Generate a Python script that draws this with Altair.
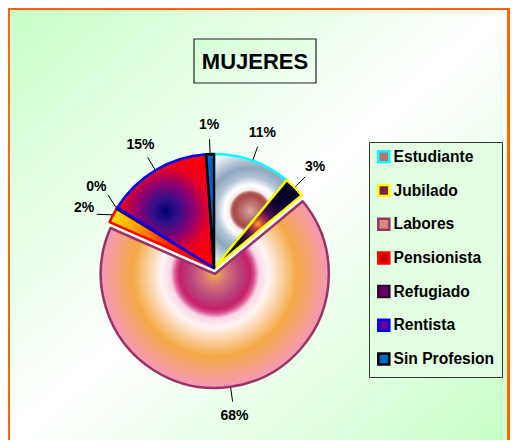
import math
import altair as alt
import pandas as pd

# ---------------- data ----------------
categories = ["Estudiante", "Jubilado", "Labores", "Pensionista", "Refugiado", "Rentista", "Sin Profesion"]
percentages = [11.0, 3.0, 67.6, 2.1, 0.2, 15.0, 1.1]
legend_fills = ["#BC7070", "#7A2040", "#D88A80", "#CC0000", "#660066", "#620090", "#0066CC"]
border_colors = ["#00FFFF", "#FFFF00", "#993366", "#FF0000", "#330033", "#0000FF", "#000000"]
title_text = "MUJERES"

# ---------------- layout / style ----------------
FONT = "Liberation Sans"
W, H = 502, 432
PAD = {"left": 2, "top": 2, "right": 3, "bottom": 0}
CX, CY = 204, 258
R = 114
EXPLODE = 6
EXPLODED = "Labores"
LABEL_R = 143
LEADER_IN = R + 1
LEADER_OUT = 129
MIN_SEP = 10.0

total = sum(percentages)
starts, acc = [], 0.0
for p in percentages:
    starts.append(acc)
    acc += p
ends = [s + p for s, p in zip(starts, percentages)]
mid_deg = [(s + e) / 2 / total * 360 for s, e in zip(starts, ends)]

# spread labels of neighbouring thin slices
lab_deg = list(mid_deg)
for _ in range(200):
    moved = False
    for i in range(len(lab_deg) - 1):
        gap = lab_deg[i + 1] - lab_deg[i]
        if gap < MIN_SEP - 1e-6:
            d = (MIN_SEP - gap) / 2
            lab_deg[i] -= d
            lab_deg[i + 1] += d
            moved = True
    if not moved:
        break

rows = []
for i, c in enumerate(categories):
    m = math.radians(mid_deg[i])
    la = math.radians(lab_deg[i])
    if c == EXPLODED:
        ccx, ccy = CX + EXPLODE * math.sin(m), CY - EXPLODE * math.cos(m)
    else:
        ccx, ccy = CX, CY
    rows.append({
        "cat": c, "pct": percentages[i], "order": i,
        "start": starts[i], "end": ends[i],
        "lx": ccx + LABEL_R * math.sin(la), "ly": ccy - LABEL_R * math.cos(la),
        "sx": ccx + LEADER_IN * math.sin(m), "sy": ccy - LEADER_IN * math.cos(m),
        "ex": ccx + LEADER_OUT * math.sin(la), "ey": ccy - LEADER_OUT * math.cos(la),
        "ccx": ccx, "ccy": ccy,
    })
df = pd.DataFrame(rows)
ex_row = df[df.cat == EXPLODED].iloc[0]


def arc_bbox(a0, a1, r):
    pts = [(0.0, 0.0), (r * math.sin(a0), -r * math.cos(a0)), (r * math.sin(a1), -r * math.cos(a1))]
    for k in range(5):
        ang = k * math.pi / 2
        if a0 < ang < a1:
            pts.append((r * math.sin(ang), -r * math.cos(ang)))
    xs = [p[0] for p in pts]
    ys = [p[1] for p in pts]
    return min(xs), min(ys), max(xs), max(ys)


def radial(i, anchor, radius, stops):
    a0 = starts[i] / total * 2 * math.pi
    a1 = ends[i] / total * 2 * math.pi
    x0, y0, x1, y1 = arc_bbox(a0, a1, R)
    S = max(x1 - x0, y1 - y0)
    bx, by = (x0 + x1) / 2, (y0 + y1) / 2
    px, py = (0.0, 0.0) if anchor == "apex" else (bx, by)
    nx = 0.5 + (px - bx) / S
    ny = 0.5 + (py - by) / S
    return {"gradient": "radial", "x1": nx, "y1": ny, "r1": 0, "x2": nx, "y2": ny,
            "r2": radius / S, "stops": [{"offset": o, "color": col} for o, col in stops]}


grads = {
    "Estudiante": radial(0, "box", 62, [(0, "#D8A8A8"), (0.12, "#C07878"), (0.26, "#A84848"), (0.30, "#B86060"),
                                        (0.34, "#F4ECEC"), (0.42, "#FFFFFF"), (0.55, "#B0C2D4"), (0.70, "#8FA6BE"),
                                        (0.86, "#C4D2E0"), (1, "#EEF4FA")]),
    "Jubilado": radial(1, "box", 45, [(0, "#F8A030"), (0.12, "#C04040"), (0.3, "#501050"), (0.55, "#100030"),
                                      (1, "#000028")]),
    "Labores": radial(2, "apex", R, [(0, "#F0B048"), (0.10, "#D87278"), (0.22, "#B8447C"), (0.31, "#C42068"),
                                     (0.345, "#D85090"), (0.39, "#FAD6E6"), (0.47, "#FFF4F4"), (0.72, "#F5A845"),
                                     (0.88, "#F6A088"), (1, "#F598B8")]),
    "Pensionista": radial(3, "apex", R, [(0, "#C00000"), (0.45, "#FF2000"), (0.75, "#FF9A00"), (1, "#FFE000")]),
    "Rentista": radial(5, "box", 62, [(0, "#000070"), (0.2, "#30108A"), (0.45, "#900070"), (0.7, "#E80020"),
                                      (1, "#FF0000")]),
}
fill_conditions = [{"test": f"datum.cat === '{k}'", "value": v} for k, v in grads.items()]

legend = alt.Legend(
    title=None, orient="none", legendX=359, legendY=132,
    symbolType="square", symbolSize=121, symbolStrokeWidth=2.5,
    labelFont=FONT, labelFontSize=15.6, labelFontWeight="bold", labelColor="black",
    labelOffset=2, labelLimit=300, rowPadding=11.7, padding=7,
    fillColor="#E2FFE2", strokeColor="#333333",
)
fill_enc = alt.Fill("cat:N", scale=alt.Scale(domain=categories, range=legend_fills),
                    legend=legend, condition=fill_conditions)
stroke_enc = alt.Stroke("cat:N", scale=alt.Scale(domain=categories, range=border_colors), legend=legend)
theta_scale = alt.Scale(domain=[0, total], range=[0, 2 * math.pi])

one = pd.DataFrame({"k": [0]})

bg = alt.Chart(one).mark_rect(
    fill={"gradient": "linear", "x1": 0, "y1": 0, "x2": 1, "y2": 1,
          "stops": [{"offset": 0, "color": "#C8FFC8"}, {"offset": 0.5, "color": "#FFFFFF"},
                    {"offset": 1, "color": "#C8FFC8"}]}
).encode(x=alt.value(0), x2=alt.value("width"), y=alt.value(0), y2=alt.value("height"))

title_box = alt.Chart(one).mark_rect(
    fill={"gradient": "linear", "x1": 0, "y1": 0, "x2": 1, "y2": 1,
          "stops": [{"offset": 0, "color": "#D4FFD4"}, {"offset": 1, "color": "#F4FFF4"}]},
    stroke="#222222", strokeWidth=1.2
).encode(x=alt.value(184), x2=alt.value(306), y=alt.value(29), y2=alt.value(73))

title_txt = alt.Chart(one).mark_text(
    text=title_text, font=FONT, fontSize=22, fontWeight="bold", color="black",
    align="center", baseline="middle"
).encode(x=alt.value(245), y=alt.value(52))

base = alt.Chart(df)

pie_main = base.transform_filter(f"datum.cat !== '{EXPLODED}'").mark_arc(
    outerRadius=R, strokeWidth=2.5, strokeJoin="round"
).encode(
    theta=alt.Theta("start:Q", scale=theta_scale, stack=None),
    theta2="end:Q",
    fill=fill_enc, stroke=stroke_enc,
    x=alt.value(CX), y=alt.value(CY),
    order=alt.Order("order:Q"),
)

pie_ex = base.transform_filter(f"datum.cat === '{EXPLODED}'").mark_arc(
    outerRadius=R, strokeWidth=2.5, strokeJoin="round"
).encode(
    theta=alt.Theta("start:Q", scale=theta_scale, stack=None),
    theta2="end:Q",
    fill=fill_enc, stroke=stroke_enc,
    x=alt.value(float(ex_row.ccx)), y=alt.value(float(ex_row.ccy)),
)

leaders = base.mark_rule(color="black", strokeWidth=1).encode(
    x=alt.X("sx:Q", scale=None, axis=None), y=alt.Y("sy:Q", scale=None, axis=None),
    x2="ex:Q", y2="ey:Q",
)

labels = base.transform_calculate(
    lab="format(datum.pct, '.0f') + '%'"
).mark_text(font=FONT, fontSize=14, fontWeight="bold", color="black",
            align="center", baseline="middle").encode(
    x=alt.X("lx:Q", scale=None, axis=None), y=alt.Y("ly:Q", scale=None, axis=None),
    text="lab:N",
)

chart = alt.layer(bg, title_box, title_txt, pie_main, pie_ex, leaders, labels).properties(
    width=W, height=H,
    autosize=alt.AutoSizeParams(type="fit", contains="padding"),
    padding=PAD,
    background="#FF6600",
).configure_view(stroke=None)

chart.save("out.html", embed_options={"renderer": "svg", "actions": False})
